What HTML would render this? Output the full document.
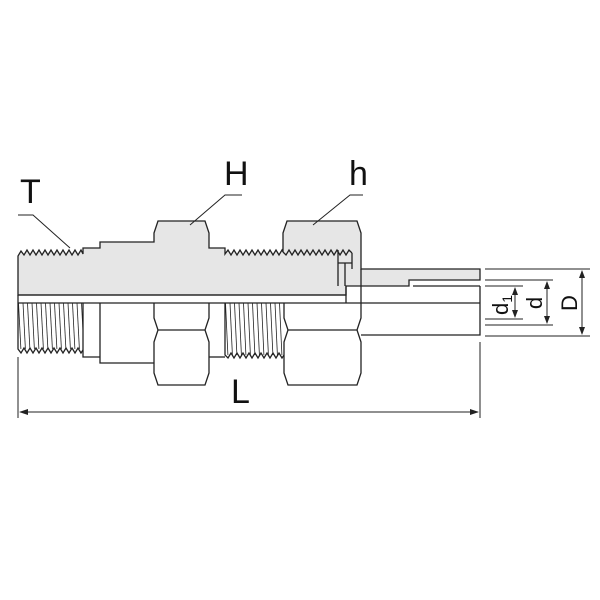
<!DOCTYPE html>
<html><head><style>body{margin:0;background:#fff}svg{display:block}</style></head><body>
<svg width="600" height="600" viewBox="0 0 600 600" xmlns="http://www.w3.org/2000/svg" font-family="Liberation Sans, sans-serif">
<defs>
<pattern id="th1" x="18" y="303" width="4.5" height="48" patternUnits="userSpaceOnUse"><path d="M0.5 0 L3 48" stroke="#222" stroke-width="0.8"/></pattern>
<pattern id="th2" x="225" y="303" width="4.5" height="54" patternUnits="userSpaceOnUse"><path d="M0.5 0 L3 54" stroke="#222" stroke-width="0.8"/></pattern>
</defs>
<g stroke="#222" stroke-width="1.3" fill="none">
<path fill="#e6e6e6" d="M18 295 L18 256 L21 251 L24 255 L27 250 L30 255 L33 250 L36 255 L39 250 L42 255 L45 250 L48 255 L51 250 L54 255 L57 250 L60 255 L63 250 L66 255 L69 250 L72 255 L75 250 L78 255 L81 250 L83 254 L83 248 L100 248 L100 242 L154 242 L154 233 L158 221 L205 221 L209 233 L209 248 L225 248 L225 254 L228 250 L231 255 L234 250 L237 255 L240 250 L243 255 L246 250 L249 255 L252 250 L255 255 L258 250 L261 255 L264 250 L267 255 L270 250 L273 255 L276 250 L279 255 L282 250 L283 252 L283 233 L287 221 L357 221 L361 233 L361 269 L480 269 L480 280 L409 280 L409 286 L346 286 L346 295 Z"/>
<path d="M283 252 L286 255 L289 250 L292 255 L295 250 L298 255 L301 250 L304 255 L307 250 L310 255 L313 250 L316 255 L319 250 L322 255 L325 250 L328 255 L331 250 L334 255 L337 250 L340 255 L343 250 L346 255 L349 250 L352 253"/>
<path d="M338 250 L338 286 M338 263 L345 263 L345 286 M345 263 L352 263 L352 269 M352 253 L352 263"/>
<path d="M413 286 L480 286"/>
<path d="M18 295 L346 295 M18 303 L480 303 M18 295 L18 303 M346 286 L346 303 M361 269 L361 303"/>
<rect x="18" y="303" width="65" height="46" fill="url(#th1)" stroke="none"/>
<path d="M18 303 L18 349 L21 353 L24 348 L27 353 L30 348 L33 353 L36 348 L39 353 L42 348 L45 353 L48 348 L51 353 L54 348 L57 353 L60 348 L63 353 L66 348 L69 353 L72 348 L75 353 L78 348 L81 353 L83 350"/>
<path d="M83 303 L83 357 L100 357 M100 303 L100 363 L154 363"/>
<path d="M154 303 L154 318 L158 330 L154 342 L154 373 L158 385 L205 385 L209 373 L209 342 L205 330 L209 318 L209 303 M158 330 L205 330"/>
<path d="M209 357 L225 357"/>
<rect x="225" y="303" width="59" height="52" fill="url(#th2)" stroke="none"/>
<path d="M225 303 L225 355 L228 358 L231 353 L234 358 L237 353 L240 358 L243 353 L246 358 L249 353 L252 358 L255 353 L258 358 L261 353 L264 358 L267 353 L270 358 L273 353 L276 358 L279 353 L282 358 L284 355"/>
<path d="M284 303 L284 318 L288 330 L284 342 L284 373 L288 385 L357 385 L361 373 L361 342 L357 330 L361 318 L361 303 M288 330 L357 330"/>
<path d="M361 335 L480 335 L480 303 M480 286 L480 303"/>
</g>
<g stroke="#222" stroke-width="1" fill="none">
<path d="M485 269 L590 269 M485 336 L590 336 M485 280 L553 280 M485 325 L553 325 M485 286 L523 286 M485 319 L523 319"/>
<path d="M582 271 L582 334 M547 282 L547 323 M515 288 L515 317"/>
<path d="M18 357 L18 418 M480 342 L480 418 M20 412 L478 412"/>
<path d="M18 215 L33 215 L70 248 M242 195 L225 195 L190 225 M363 195 L350 195 L313 225"/>
</g>
<g fill="#222">
<path d="M582 270 L579 278 L585 278 Z M582 335 L579 327 L585 327 Z"/>
<path d="M547 281 L544 289 L550 289 Z M547 324 L544 316 L550 316 Z"/>
<path d="M515 287 L512 295 L518 295 Z M515 318 L512 310 L518 310 Z"/>
<path d="M19 412 L28 409 L28 415 Z M479 412 L470 409 L470 415 Z"/>
</g>
<g fill="#111" font-size="34">
<text x="20" y="203">T</text>
<text x="224" y="185">H</text>
<text x="349" y="185">h</text>
<text x="231" y="403">L</text>
</g>
<g fill="#111" font-size="22">
<text transform="translate(508,305) rotate(-90)" text-anchor="middle">d<tspan font-size="14" dy="4">1</tspan></text>
<text transform="translate(542,303) rotate(-90)" text-anchor="middle">d</text>
<text transform="translate(577,303) rotate(-90)" text-anchor="middle">D</text>
</g>
</svg>
</body></html>
